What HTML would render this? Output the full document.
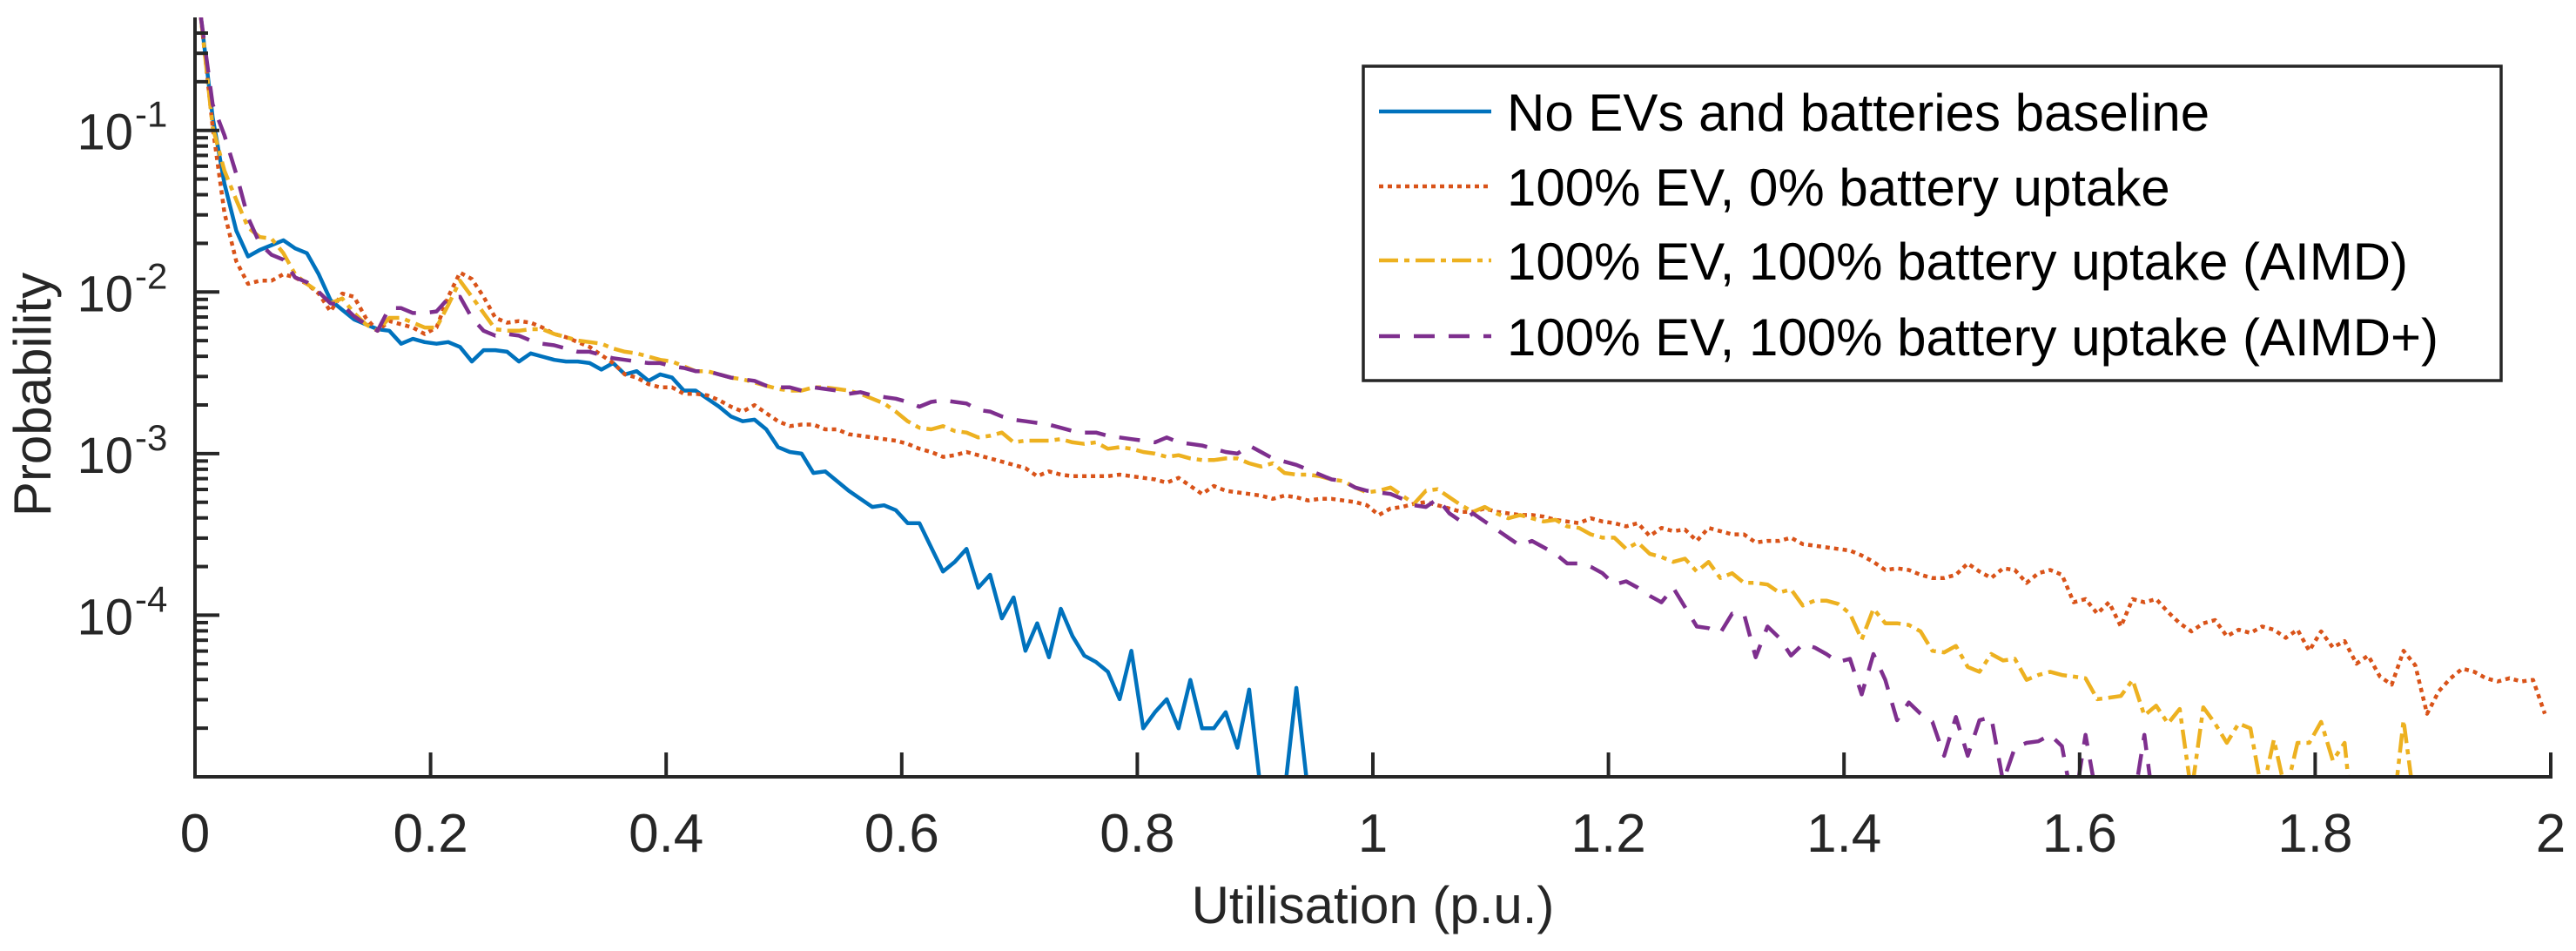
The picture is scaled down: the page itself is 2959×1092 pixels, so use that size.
<!DOCTYPE html>
<html>
<head>
<meta charset="utf-8">
<style>
  html, body { margin: 0; padding: 0; background: #ffffff; }
  svg { display: block; font-family: "Liberation Sans", Arial, sans-serif; }
</style>
</head>
<body>
<svg id="chart" width="2959" height="1092" viewBox="0 0 2959 1092" xmlns="http://www.w3.org/2000/svg">
  <defs>
    <clipPath id="plotClip"><rect x="224" y="20" width="2706" height="872"/></clipPath>
  </defs>
  <rect x="0" y="0" width="2959" height="1092" fill="#ffffff"/>
  <g id="series" clip-path="url(#plotClip)"></g>
  <g id="axes"></g>
  <text x="1577" y="1060" font-size="60" text-anchor="middle" fill="#262626">Utilisation (p.u.)</text>
  <text transform="translate(58,453) rotate(-90)" font-size="60" text-anchor="middle" fill="#262626">Probability</text>
  <g id="legend"></g>
</svg>
<script>
// ---- data ----
const binStart = 0.005;
const binWidth = 0.01;
const xTickValues = [0, 0.2, 0.4, 0.6, 0.8, 1, 1.2, 1.4, 1.6, 1.8, 2];
const xTickLabels = ["0", "0.2", "0.4", "0.6", "0.8", "1", "1.2", "1.4", "1.6", "1.8", "2"];
const yTickExponents = [-1, -2, -3, -4];
const seriesNames = ["No EVs and batteries baseline", "100% EV, 0% battery uptake", "100% EV, 100% battery uptake (AIMD)", "100% EV, 100% battery uptake (AIMD+)"];
// log10(probability) per 0.01 bin, starting at bin centre 0.005 (null = empty bin)
const baselineLog10P = [
-0.30,-0.92,-1.33,-1.62,-1.78,-1.74,-1.71,-1.68,-1.73,-1.76,
-1.89,-2.05,-2.11,-2.17,-2.20,-2.23,-2.24,-2.32,-2.29,-2.31,
-2.32,-2.31,-2.34,-2.43,-2.36,-2.36,-2.37,-2.43,-2.38,-2.40,
-2.42,-2.43,-2.43,-2.44,-2.48,-2.44,-2.51,-2.49,-2.55,-2.51,
-2.53,-2.61,-2.61,-2.66,-2.71,-2.77,-2.80,-2.79,-2.85,-2.96,
-2.99,-3.00,-3.12,-3.11,-3.17,-3.23,-3.28,-3.33,
-3.32,-3.35,-3.43,-3.43,-3.58,-3.73,-3.67,-3.59,-3.83,-3.75,
-4.02,-3.89,-4.22,-4.05,-4.26,-3.96,-4.13,-4.25,-4.29,-4.35,
-4.52,-4.22,-4.70,-4.60,-4.52,-4.70,-4.40,-4.70,-4.70,-4.60,
-4.82,-4.46,-5.1,-5.3,-5.1,-4.45,-5.1];
const ev0Log10P = [
-0.30,-0.98,-1.51,-1.81,-1.95,-1.93,-1.93,-1.89,-1.91,-1.95,
-2.01,-2.12,-2.01,-2.03,-2.16,-2.24,-2.18,-2.20,-2.22,-2.26,
-2.22,-2.03,-1.88,-1.92,-2.03,-2.16,-2.19,-2.18,-2.19,-2.22,
-2.26,-2.28,-2.31,-2.34,-2.39,-2.44,-2.51,-2.53,-2.57,-2.59,
-2.59,-2.63,-2.63,-2.64,-2.67,-2.71,-2.74,-2.70,-2.75,-2.80,
-2.83,-2.82,-2.82,-2.85,-2.85,-2.88,-2.89,-2.90,
-2.91,-2.92,-2.94,-2.97,-2.99,-3.02,-3.01,-2.99,-3.01,-3.03,
-3.05,-3.07,-3.09,-3.14,-3.11,-3.13,-3.14,-3.14,-3.14,-3.14,
-3.13,-3.14,-3.15,-3.16,-3.18,-3.15,-3.20,-3.25,-3.20,-3.23,
-3.24,-3.25,-3.26,-3.28,-3.26,-3.27,-3.29,-3.28,-3.28,-3.29,
-3.30,-3.32,-3.38,-3.34,-3.33,-3.31,-3.30,-3.32,-3.34,-3.36,
-3.36,-3.34,-3.36,-3.37,-3.38,-3.38,-3.39,
-3.41,-3.42,-3.43,-3.40,-3.42,-3.43,-3.45,-3.43,-3.51,-3.46,
-3.48,-3.47,-3.54,-3.46,-3.48,-3.50,-3.50,-3.55,-3.54,-3.54,
-3.52,-3.56,-3.57,-3.58,-3.59,-3.60,-3.63,-3.67,-3.72,-3.71,
-3.72,-3.75,-3.77,-3.77,-3.75,-3.68,-3.73,-3.77,-3.71,-3.72,
-3.80,-3.74,-3.72,
-3.75,-3.92,-3.90,-3.99,-3.92,-4.07,-3.90,-3.92,-3.90,-3.98,
-4.05,-4.10,-4.05,-4.03,-4.13,-4.09,-4.11,-4.07,-4.09,-4.14,
-4.09,-4.22,-4.10,-4.20,-4.16,-4.30,-4.25,-4.38,-4.43,-4.22,
-4.31,-4.61,-4.47,-4.39,-4.33,-4.35,-4.39,-4.41,-4.39,-4.41,
-4.40,-4.61];
const aimdLog10P = [
-0.30,-0.98,-1.25,-1.43,-1.60,-1.66,-1.67,-1.76,-1.89,-1.95,
-2.00,-2.07,-2.04,-2.13,-2.20,-2.24,-2.16,-2.16,-2.19,-2.22,
-2.22,-2.08,-1.93,-2.03,-2.13,-2.23,-2.24,-2.24,-2.23,-2.23,
-2.26,-2.28,-2.30,-2.31,-2.32,-2.35,-2.37,-2.38,-2.40,-2.42,
-2.43,-2.46,-2.49,-2.49,-2.51,-2.53,-2.54,-2.56,-2.58,-2.60,
-2.61,-2.61,-2.59,-2.59,-2.60,-2.61,-2.63,-2.66,
-2.69,-2.74,-2.80,-2.84,-2.85,-2.83,-2.86,-2.87,-2.90,-2.89,
-2.87,-2.93,-2.92,-2.92,-2.92,-2.91,-2.93,-2.94,-2.93,-2.97,
-2.96,-2.97,-2.99,-3.00,-3.02,-3.01,-3.03,-3.04,-3.04,-3.03,
-3.03,-3.06,-3.08,-3.06,-3.12,-3.13,-3.13,-3.14,-3.16,-3.17,
-3.21,-3.24,-3.23,-3.21,-3.26,-3.31,-3.23,-3.22,-3.27,-3.32,
-3.36,-3.33,-3.37,-3.40,-3.38,-3.40,-3.42,
-3.41,-3.45,-3.46,-3.50,-3.52,-3.52,-3.59,-3.55,-3.62,-3.64,
-3.67,-3.65,-3.73,-3.67,-3.77,-3.74,-3.80,-3.80,-3.81,-3.86,
-3.84,-3.94,-3.91,-3.91,-3.93,-3.99,-4.15,-3.96,-4.05,-4.05,
-4.06,-4.10,-4.22,-4.23,-4.19,-4.32,-4.35,-4.24,-4.28,-4.27,
-4.40,-4.37,-4.35,
-4.37,-4.38,-4.39,-4.52,-4.51,-4.50,-4.40,-4.62,-4.56,-4.67,
-4.58,-5.1,-4.57,-4.67,-4.79,-4.67,-4.70,-5.1,-4.77,-5.1,
-4.79,-4.79,-4.66,-4.90,-4.79,-5.5,null,null,-5.3,-4.65,
-5.2];
const aimdPlusLog10P = [
-0.30,-0.84,-1.03,-1.27,-1.54,-1.70,-1.77,-1.80,-1.91,-1.94,
-2.00,-2.07,-2.08,-2.15,-2.20,-2.24,-2.10,-2.10,-2.13,-2.13,
-2.12,-2.04,-2.03,-2.16,-2.24,-2.27,-2.26,-2.27,-2.30,-2.32,
-2.33,-2.35,-2.37,-2.37,-2.39,-2.41,-2.42,-2.43,-2.44,-2.44,
-2.46,-2.47,-2.49,-2.49,-2.51,-2.53,-2.54,-2.55,-2.58,-2.59,
-2.59,-2.61,-2.59,-2.60,-2.61,-2.63,-2.62,-2.64,
-2.65,-2.66,-2.68,-2.71,-2.68,-2.67,-2.68,-2.69,-2.73,-2.74,
-2.77,-2.79,-2.80,-2.81,-2.82,-2.84,-2.86,-2.87,-2.87,-2.89,
-2.90,-2.91,-2.92,-2.93,-2.90,-2.93,-2.94,-2.95,-2.97,-2.99,
-3.00,-2.95,-2.99,-3.03,-3.05,-3.07,-3.10,-3.13,-3.16,-3.17,
-3.21,-3.23,-3.24,-3.25,-3.28,-3.32,-3.33,-3.28,-3.37,-3.42,
-3.37,-3.42,-3.47,-3.52,-3.57,-3.54,-3.58,
-3.62,-3.68,-3.68,-3.70,-3.74,-3.81,-3.79,-3.83,-3.88,-3.92,
-3.83,-3.95,-4.07,-4.08,-4.11,-3.99,-3.99,-4.26,-4.07,-4.14,
-4.25,-4.18,-4.20,-4.24,-4.29,-4.27,-4.49,-4.24,-4.40,-4.65,
-4.54,-4.61,-4.66,-4.87,-4.63,-4.87,-4.65,-4.63,-5.03,-4.82,
-4.79,-4.78,-4.74,
-4.81,-5.2,-4.74,-5.15,null,null,-5.2,-4.74,-5.3];

// ---- axes ----
const X0 = 224, X1 = 2930, Y0 = 892, Y1 = 20;
const xMin = 0, xMax = 2, yLogMin = -5, yLogMax = Math.log10(0.5);
function xScale(u) { return X0 + (u - xMin) / (xMax - xMin) * (X1 - X0); }
function yScaleLog(l) { return Y0 - (l - yLogMin) / (yLogMax - yLogMin) * (Y0 - Y1); }
function yScale(p) { return yScaleLog(Math.log10(p)); }

const NS = "http://www.w3.org/2000/svg";
function mk(tag, attrs, parent) {
  const el = document.createElementNS(NS, tag);
  for (const k in attrs) el.setAttribute(k, attrs[k]);
  parent.appendChild(el);
  return el;
}

const seriesGroup = document.getElementById("series");
const seriesDefs = [
  { key: "baseline", values: baselineLog10P, color: "#0072BD", dash: "" },
  { key: "ev0", values: ev0Log10P, color: "#D95319", dash: "5 5" },
  { key: "aimd", values: aimdLog10P, color: "#EDB120", dash: "22 7 6 7" },
  { key: "aimd-plus", values: aimdPlusLog10P, color: "#7E2F8E", dash: "24 16" }
];
seriesDefs.forEach(s => {
  let d = "", pen = false;
  s.values.forEach((v, i) => {
    if (v === null) { pen = false; return; }
    const u = binStart + i * binWidth;
    const p = Math.pow(10, v);
    d += (pen ? "L" : "M") + xScale(u).toFixed(1) + " " + yScale(p).toFixed(1) + " ";
    pen = true;
  });
  const path = mk("path", { d: d, fill: "none", stroke: s.color, "stroke-width": 4.5, "stroke-linejoin": "round", "stroke-dasharray": s.dash }, seriesGroup);
  
  
});

const axes = document.getElementById("axes");
const axisColor = "#262626";
const yAxisLine = mk("line", { x1: X0, y1: Y1, x2: X0, y2: Y0 + 2, stroke: axisColor, "stroke-width": 4 }, axes);


const xAxisLine = mk("line", { x1: X0 - 2, y1: Y0, x2: X1 + 2, y2: Y0, stroke: axisColor, "stroke-width": 4 }, axes);



xTickValues.forEach((v, i) => {
  const x = xScale(v);
  const t = mk("line", { x1: x, y1: Y0, x2: x, y2: Y0 - 28, stroke: axisColor, "stroke-width": 4 }, axes);
  
  
  const lbl = mk("text", { x: x, y: 978, "font-size": 62, "text-anchor": "middle", fill: axisColor }, axes);
  lbl.textContent = xTickLabels[i];
  
  
});

// minor ticks on log axis
for (let e = -5; e <= 0; e++) {
  for (let m = 2; m <= 9; m++) {
    const l = e + Math.log10(m);
    if (l > yLogMax || l < yLogMin) continue;
    const y = yScaleLog(l);
    const mt = mk("line", { x1: X0, y1: y, x2: X0 + 15, y2: y, stroke: axisColor, "stroke-width": 4 }, axes);
    
    
  }
}
yTickExponents.forEach(e => {
  const y = yScaleLog(e);
  const t = mk("line", { x1: X0, y1: y, x2: X0 + 28, y2: y, stroke: axisColor, "stroke-width": 4 }, axes);
  
  
  const lbl = mk("text", { x: 153, y: y + 22, "font-size": 58, "text-anchor": "end", fill: axisColor }, axes);
  lbl.textContent = "10";
  
  
  const sup = mk("text", { x: 155, y: y - 4, "font-size": 42, "text-anchor": "start", fill: axisColor }, axes);
  sup.textContent = String(e);
  
  
});

// legend
const legend = document.getElementById("legend");
const box = mk("rect", { x: 1566, y: 76, width: 1307, height: 361, fill: "#ffffff", stroke: axisColor, "stroke-width": 3.5 }, legend);


const rowY = [128, 214, 299, 386];
seriesDefs.forEach((s, i) => {
  const ln = mk("line", { x1: 1584, y1: rowY[i], x2: 1713, y2: rowY[i], stroke: s.color, "stroke-width": 4.5, "stroke-dasharray": s.dash }, legend);
  
  
  const tx = mk("text", { x: 1731, y: rowY[i] + 22, "font-size": 60, fill: "#000000" }, legend);
  tx.textContent = seriesNames[i];
  
  
});
</script>
</body>
</html>
